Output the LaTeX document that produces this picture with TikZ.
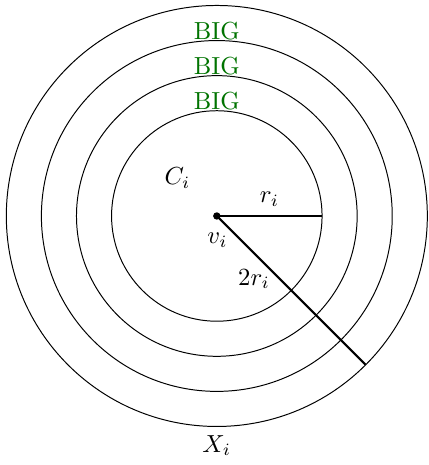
\documentclass[tikz,border=0pt]{standalone}
\begin{document}
\begin{tikzpicture}
\tikzset{
  ring/.style={draw=black, line width=0.4pt},
  radiusline/.style={draw=black, line width=0.9pt},
  biglabel/.style={anchor=base, text=green!45!black, inner sep=0pt},
  mathlabel/.style={inner sep=0.333em}
}
\useasboundingbox (-3.09,-3.549) rectangle (3.01,3.078);
% circles
\draw[ring] (0,0) circle (1.5);
\draw[ring] (0,0) circle (2);
\draw[ring] (0,0) circle (2.5);
\draw[ring] (0,0) circle (3);
% center and end points
\coordinate (v) at (0,0);
\coordinate (ri) at (0:1.5);
\coordinate (xo) at (-45:3);
\coordinate (xb) at (0,-3);
% radius lines
\draw[radiusline] (v) -- (ri) node[midway, above, mathlabel] (rlab) {$r_i$};
\draw[radiusline] (v) -- (xo);
\fill (v) circle (1.5pt);
% labels
\node[biglabel] (big1) at (0,2.5cm+0.6pt) {BIG};
\node[biglabel] (big2) at (0,2cm+0.6pt) {BIG};
\node[biglabel] (big3) at (0,1.5cm+0.6pt) {BIG};
\node[mathlabel] (ci) at (-0.56,0.54) {$C_i$};
\node[mathlabel] (vi) at (0.01,-0.35) {$v_i$};
\node[mathlabel] (tr) at (0.53,-0.90) {$2r_i$};
\node[below, mathlabel] (xi) at (xb) {$X_i$};
\end{tikzpicture}
\end{document}
